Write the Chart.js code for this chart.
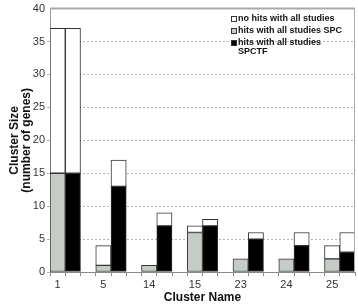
<!DOCTYPE html>
<html>
<head>
<meta charset="utf-8">
<script src="https://cdn.jsdelivr.net/npm/chart.js@4/dist/chart.umd.min.js"></script>
<style>
  body { margin: 0; background: #fff; }
  #wrap { position: relative; width: 358px; height: 305px; }
  #legend { position: absolute; left: 231px; top: 14px; font: bold 9px "Liberation Sans", Arial, sans-serif; color: #111; }
  #legend div { position: relative; padding-left: 7px; line-height: 8.5px; margin-bottom: 3.5px; }
  #legend span { position: absolute; left: 0; top: 2px; width: 4px; height: 4px; border: 1px solid #333; }
</style>
</head>
<body>
<div id="wrap">
  <canvas id="chart"></canvas>
  <div id="legend">
    <div><span style="background:#fff"></span>no hits with all studies</div>
    <div><span style="background:#c5ccc5"></span>hits with all studies SPC</div>
    <div><span style="background:#000"></span>hits with all studies<br>SPCTF</div>
  </div>
</div>
<script>
const clusters = ["1", "5", "14", "15", "23", "24", "25"];
const spc = [15, 1, 1, 6, 2, 2, 2];
const spcNoHits = [22, 3, 0, 1, 0, 0, 2];
const spctf = [15, 13, 7, 7, 5, 4, 3];
const spctfNoHits = [22, 4, 2, 1, 1, 2, 3];

// each cluster: SPC bar, SPCTF bar, empty slot
const slots = clusters.length * 3 - 1;
const labels = [];
for (let s = 0; s < slots; s++) labels.push(s % 3 === 0 ? clusters[s / 3] : "");

function place(vals, off) {
  const a = new Array(slots).fill(null);
  vals.forEach((v, i) => { a[3 * i + off] = v; });
  return a;
}

const font = { family: "'Liberation Sans', Arial, sans-serif" };
const barStyle = { borderColor: "#333", borderWidth: 1, borderSkipped: false, barPercentage: 1, categoryPercentage: 1 };

const frame = {
  id: "frame",
  afterDatasetsDraw(chart) {
    const { ctx, chartArea: a } = chart;
    ctx.save();
    ctx.strokeStyle = "#aaa";
    ctx.lineWidth = 2;
    ctx.beginPath();
    ctx.moveTo(a.left, a.top);
    ctx.lineTo(a.right, a.top);
    ctx.stroke();
    ctx.lineWidth = 1;
    ctx.beginPath();
    ctx.moveTo(a.right - 0.5, a.top);
    ctx.lineTo(a.right - 0.5, a.bottom);
    ctx.stroke();
    ctx.restore();
  }
};

new Chart(document.getElementById("chart"), {
  type: "bar",
  data: {
    labels: labels,
    datasets: [
      { label: "hits with all studies SPC", data: place(spc, 0), backgroundColor: "#c5ccc5", ...barStyle },
      { label: "hits with all studies SPCTF", data: place(spctf, 1), backgroundColor: "#000", ...barStyle },
      { label: "no hits with all studies", data: place(spcNoHits, 0), backgroundColor: "#fff", ...barStyle },
      { label: "no hits with all studies", data: place(spctfNoHits, 1), backgroundColor: "#fff", ...barStyle }
    ]
  },
  options: {
    responsive: true,
    maintainAspectRatio: false,
    animation: false,
    layout: { padding: { top: 5, right: 3, left: 0, bottom: 0 } },
    plugins: { legend: { display: false }, tooltip: { enabled: false } },
    scales: {
      x: {
        stacked: true,
        afterFit: s => { s.height = 33; },
        grid: { drawOnChartArea: false, tickLength: 4, color: "#888" },
        border: { color: "#888" },
        ticks: { autoSkip: false, maxRotation: 0, padding: 2, color: "#333", font: { ...font, size: 11 } },
        title: { display: true, text: "Cluster Name", color: "#111", padding: 0, font: { ...font, size: 12, weight: "bold" } }
      },
      y: {
        stacked: true,
        min: 0,
        max: 40,
        afterFit: s => { s.width = 50; },
        grid: { color: c => (c.tick && c.tick.value === 40 ? "rgba(0,0,0,0)" : "#b4b4b4"), tickLength: 3 },
        border: { color: "#999", dash: [2, 2] },
        ticks: { stepSize: 5, padding: 2, color: "#333", font: { ...font, size: 11 } },
        title: {
          display: true,
          text: ["Cluster Size", "(number of genes)"],
          color: "#111",
          padding: { top: 9, bottom: 0 },
          font: { ...font, size: 12, weight: "bold", lineHeight: 1 }
        }
      }
    }
  },
  plugins: [frame]
});
</script>
</body>
</html>
